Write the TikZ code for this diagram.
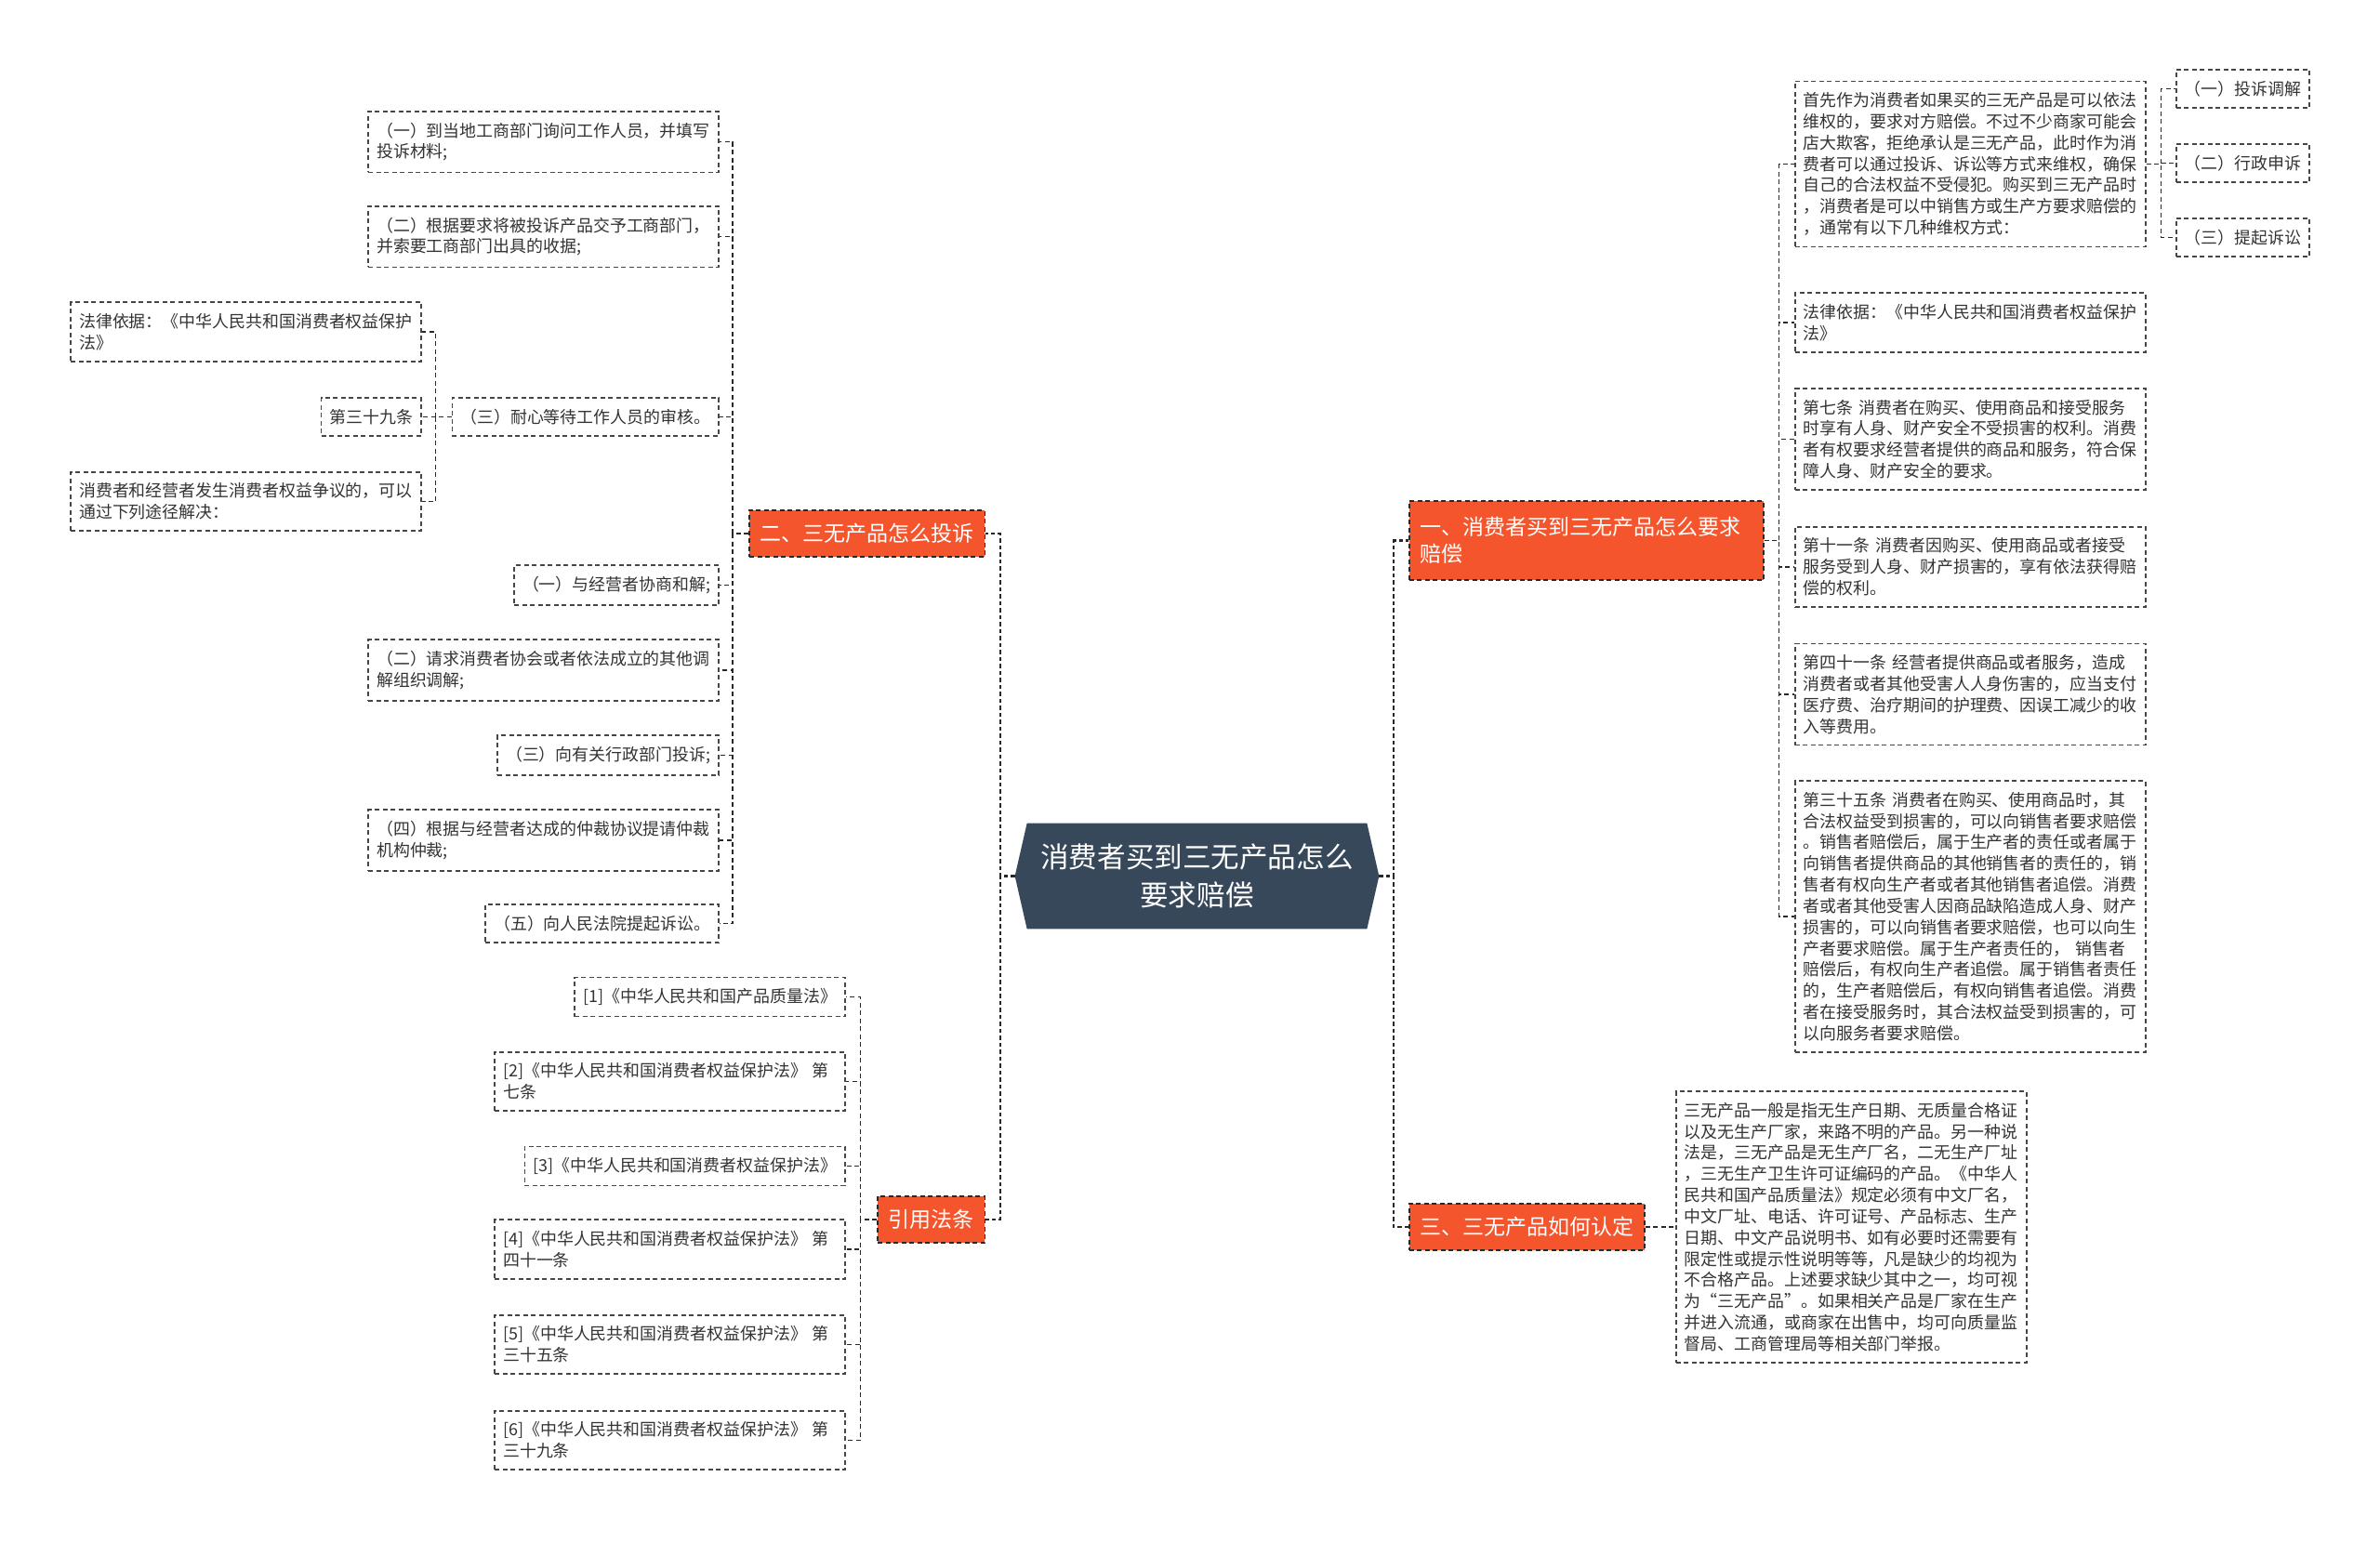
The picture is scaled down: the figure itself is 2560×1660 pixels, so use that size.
\documentclass[tikz,border=0pt]{standalone}
\usepackage{fontspec}
\setmainfont{Noto Sans CJK SC}
\usepackage{tikz}
\usetikzlibrary{calc, backgrounds}
\definecolor{rootblue}{RGB}{54,72,89}
\definecolor{branchred}{RGB}{245,85,45}
\definecolor{boxgray}{RGB}{70,70,70}
\definecolor{textgray}{RGB}{51,51,51}
\definecolor{linegray}{RGB}{40,40,40}

\begin{document}
\begin{tikzpicture}[x=0.2mm, y=-0.2mm,
  leaf/.style={draw=boxgray, line width=0.32mm, dash pattern=on 1mm off 0.7mm,
    text=textgray, font=\fontsize{10.2}{13}\selectfont,
    inner xsep=1.8mm, inner ysep=2.4mm, align=left},
  wide/.style={text width=71.8mm},
  branch/.style={fill=branchred, draw=linegray, line width=0.3mm, dash pattern=on 1mm off 0.7mm,
    text=white, font=\fontsize{13.1}{16.7}\selectfont,
    inner xsep=2.3mm, inner ysep=1mm, minimum height=10mm, align=left},
  rootnode/.style={text=white, font=\fontsize{17.4}{23.3}\selectfont, align=center,
    minimum width=78.2mm, minimum height=22.6mm, inner sep=0pt},
  link/.style={draw=linegray, line width=0.32mm, dash pattern=on 1mm off 0.7mm},
  mainlink/.style={draw=linegray, line width=0.45mm, dash pattern=on 0.9mm off 0.6mm}]
  \useasboundingbox (0,0) rectangle (2560,1660);

  % nodo centrale
  \node[rootnode] (root) at (1287.5,942.5) {消费者买到三无产品怎么\\要求赔偿};
  \begin{pgfonlayer}{background}
    \fill[white] (0,0) rectangle (2560,1660);
    \fill[rootblue] (root.west) -- ($(root.north west)+(13,0)$) -- ($(root.north east)+(-13,0)$)
      -- (root.east) -- ($(root.south east)+(-13,0)$) -- ($(root.south west)+(13,0)$) -- cycle;
  \end{pgfonlayer}

  % rami
  \node[branch, anchor=east] (br2) at (1060,574) {二、三无产品怎么投诉};
  \node[branch, anchor=east] (brref) at (1060,1312) {引用法条};
  \node[branch, anchor=west, text width=71.6mm, minimum height=17mm] (br1) at (1515,581.5) {一、消费者买到三无产品怎么要求\\赔偿};
  \node[branch, anchor=west] (br3) at (1515,1320) {三、三无产品如何认定};

  \draw[mainlink] (root.west) -- ++(-16,0) |- (br2.east);
  \draw[mainlink] (root.west) -- ++(-16,0) |- (brref.east);
  \draw[mainlink] (root.east) -- ++(16,0) |- (br1.west);
  \draw[mainlink] (root.east) -- ++(16,0) |- (br3.west);

  % come si reclama
  \node[leaf, wide, anchor=east] (br2a) at (774,152.5) {（一）到当地工商部门询问工作人员，并填写\\投诉材料;};
  \node[leaf, wide, anchor=east] (br2b) at (774,254.5) {（二）根据要求将被投诉产品交予工商部门，\\并索要工商部门出具的收据;};
  \node[leaf, anchor=east] (br2c) at (774,448.5) {（三）耐心等待工作人员的审核。};
  \node[leaf, anchor=east] (br2d) at (774,629.5) {（一）与经营者协商和解;};
  \node[leaf, wide, anchor=east] (br2e) at (774,721) {（二）请求消费者协会或者依法成立的其他调\\解组织调解;};
  \node[leaf, anchor=east] (br2f) at (774,812.5) {（三）向有关行政部门投诉;};
  \node[leaf, wide, anchor=east] (br2g) at (774,904) {（四）根据与经营者达成的仲裁协议提请仲裁\\机构仲裁;};
  \node[leaf, anchor=east] (br2h) at (774,993.5) {（五）向人民法院提起诉讼。};
  \draw[link] (br2.west) -- ++(-17,0) |- (br2a.east);
  \draw[link] (br2.west) -- ++(-17,0) |- (br2b.east);
  \draw[link] (br2.west) -- ++(-17,0) |- (br2c.east);
  \draw[link] (br2.west) -- ++(-17,0) |- (br2d.east);
  \draw[link] (br2.west) -- ++(-17,0) |- (br2e.east);
  \draw[link] (br2.west) -- ++(-17,0) |- (br2f.east);
  \draw[link] (br2.west) -- ++(-17,0) |- (br2g.east);
  \draw[link] (br2.west) -- ++(-17,0) |- (br2h.east);

  \node[leaf, wide, anchor=east] (br2c1) at (454,357) {法律依据：《中华人民共和国消费者权益保护\\法》};
  \node[leaf, anchor=east] (br2c2) at (454,448.5) {第三十九条};
  \node[leaf, wide, anchor=east] (br2c3) at (454,539.5) {消费者和经营者发生消费者权益争议的，可以\\通过下列途径解决：};
  \draw[link] (br2c.west) -- ++(-17,0) |- (br2c1.east);
  \draw[link] (br2c.west) -- ++(-17,0) |- (br2c2.east);
  \draw[link] (br2c.west) -- ++(-17,0) |- (br2c3.east);

  % leggi citate
  \node[leaf, anchor=east] (refa) at (910,1072.5) {[1]《中华人民共和国产品质量法》};
  \node[leaf, wide, anchor=east] (refb) at (910,1163.5) {[2]《中华人民共和国消费者权益保护法》 第\\七条};
  \node[leaf, anchor=east] (refc) at (910,1254.5) {[3]《中华人民共和国消费者权益保护法》};
  \node[leaf, wide, anchor=east] (refd) at (910,1344) {[4]《中华人民共和国消费者权益保护法》 第\\四十一条};
  \node[leaf, wide, anchor=east] (refe) at (910,1446.5) {[5]《中华人民共和国消费者权益保护法》 第\\三十五条};
  \node[leaf, wide, anchor=east] (reff) at (910,1549.5) {[6]《中华人民共和国消费者权益保护法》 第\\三十九条};
  \draw[link] (brref.west) -- ++(-18,0) |- (refa.east);
  \draw[link] (brref.west) -- ++(-18,0) |- (refb.east);
  \draw[link] (brref.west) -- ++(-18,0) |- (refc.east);
  \draw[link] (brref.west) -- ++(-18,0) |- (refd.east);
  \draw[link] (brref.west) -- ++(-18,0) |- (refe.east);
  \draw[link] (brref.west) -- ++(-18,0) |- (reff.east);

  % come chiedere il risarcimento
  \node[leaf, wide, anchor=west] (br1a) at (1930,176.5) {首先作为消费者如果买的三无产品是可以依法\\维权的，要求对方赔偿。不过不少商家可能会\\店大欺客，拒绝承认是三无产品，此时作为消\\费者可以通过投诉、诉讼等方式来维权，确保\\自己的合法权益不受侵犯。购买到三无产品时\\，消费者是可以中销售方或生产方要求赔偿的\\，通常有以下几种维权方式：};
  \node[leaf, wide, anchor=west] (br1b) at (1930,347) {法律依据：《中华人民共和国消费者权益保护\\法》};
  \node[leaf, wide, anchor=west] (br1c) at (1930,472.5) {第七条 消费者在购买、使用商品和接受服务\\时享有人身、财产安全不受损害的权利。消费\\者有权要求经营者提供的商品和服务，符合保\\障人身、财产安全的要求。};
  \node[leaf, wide, anchor=west] (br1d) at (1930,610) {第十一条 消费者因购买、使用商品或者接受\\服务受到人身、财产损害的，享有依法获得赔\\偿的权利。};
  \node[leaf, wide, anchor=west] (br1e) at (1930,747) {第四十一条 经营者提供商品或者服务，造成\\消费者或者其他受害人人身伤害的，应当支付\\医疗费、治疗期间的护理费、因误工减少的收\\入等费用。};
  \node[leaf, wide, anchor=west] (br1f) at (1930,986) {第三十五条 消费者在购买、使用商品时，其\\合法权益受到损害的，可以向销售者要求赔偿\\。销售者赔偿后，属于生产者的责任或者属于\\向销售者提供商品的其他销售者的责任的，销\\售者有权向生产者或者其他销售者追偿。消费\\者或者其他受害人因商品缺陷造成人身、财产\\损害的，可以向销售者要求赔偿，也可以向生\\产者要求赔偿。属于生产者责任的， 销售者\\赔偿后，有权向生产者追偿。属于销售者责任\\的，生产者赔偿后，有权向销售者追偿。消费\\者在接受服务时，其合法权益受到损害的，可\\以向服务者要求赔偿。};
  \draw[link] (br1.east) -- ++(16,0) |- (br1a.west);
  \draw[link] (br1.east) -- ++(16,0) |- (br1b.west);
  \draw[link] (br1.east) -- ++(16,0) |- (br1c.west);
  \draw[link] (br1.east) -- ++(16,0) |- (br1d.west);
  \draw[link] (br1.east) -- ++(16,0) |- (br1e.west);
  \draw[link] (br1.east) -- ++(16,0) |- (br1f.west);

  \node[leaf, anchor=west] (br1a1) at (2340,95.5) {（一）投诉调解};
  \node[leaf, anchor=west] (br1a2) at (2340,175.5) {（二）行政申诉};
  \node[leaf, anchor=west] (br1a3) at (2340,255.5) {（三）提起诉讼};
  \draw[link] (br1a.east) -- ++(16,0) |- (br1a1.west);
  \draw[link] (br1a.east) -- ++(16,0) |- (br1a2.west);
  \draw[link] (br1a.east) -- ++(16,0) |- (br1a3.west);

  % definizione
  \node[leaf, wide, anchor=west] (br3a) at (1802,1320) {三无产品一般是指无生产日期、无质量合格证\\以及无生产厂家，来路不明的产品。另一种说\\法是，三无产品是无生产厂名，二无生产厂址\\，三无生产卫生许可证编码的产品。《中华人\\民共和国产品质量法》规定必须有中文厂名，\\中文厂址、电话、许可证号、产品标志、生产\\日期、中文产品说明书、如有必要时还需要有\\限定性或提示性说明等等，凡是缺少的均视为\\不合格产品。上述要求缺少其中之一，均可视\\为“三无产品”。如果相关产品是厂家在生产\\并进入流通，或商家在出售中，均可向质量监\\督局、工商管理局等相关部门举报。};
  \draw[link] (br3.east) -- (br3a.west);
\end{tikzpicture}
\end{document}
